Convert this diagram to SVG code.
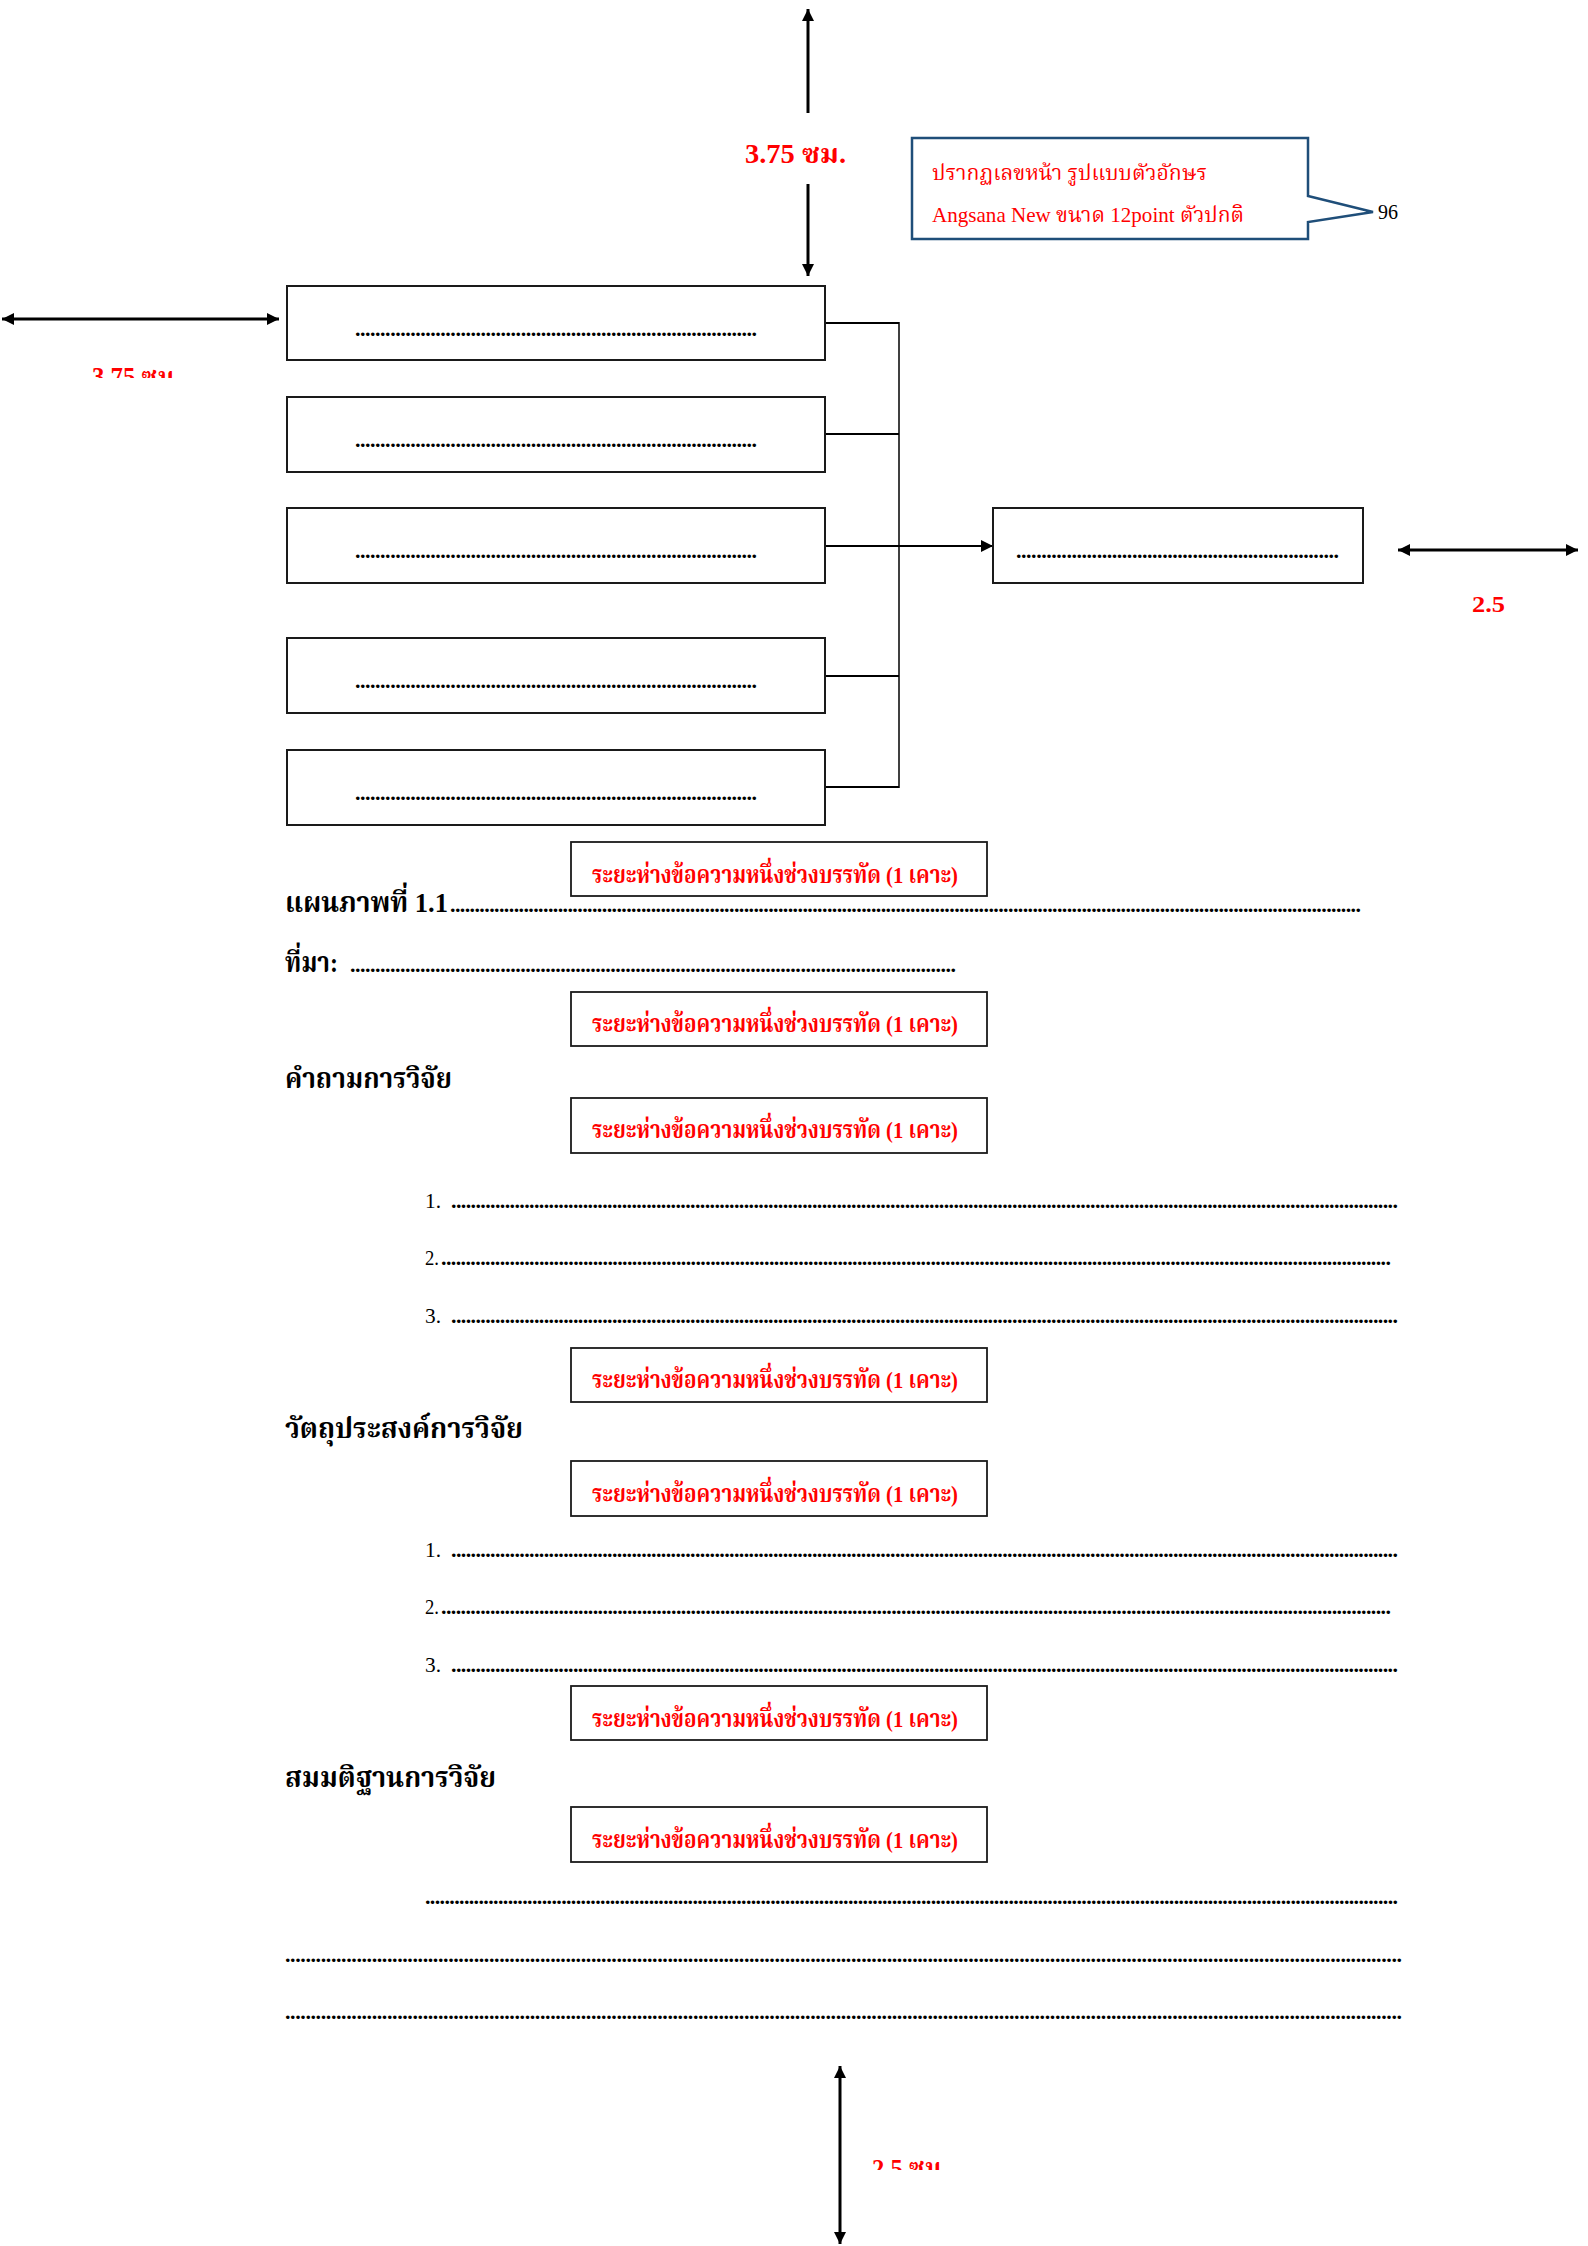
<svg xmlns="http://www.w3.org/2000/svg" width="1588" height="2246" viewBox="0 0 1588 2246">
<style>
.bg{fill:#ffffff}
.box{fill:#ffffff;stroke:#1a1a1a;stroke-width:2}
.rbox{fill:#ffffff;stroke:#1a1a1a;stroke-width:1.8}
.conn{fill:none;stroke:#000;stroke-width:2}
.vline{fill:none;stroke:#000;stroke-width:1.5}
.dim{fill:none;stroke:#000;stroke-width:3}
.th{font-family:"Liberation Serif","Noto Serif Thai","Noto Sans Thai","Noto Sans",serif}
.red{fill:#ff0000}
.blk{fill:#000}
.bold{font-weight:bold}
.dots{font-family:"Liberation Serif",serif;font-size:22px;font-weight:bold;fill:#000}
.lbl{font-size:24px;font-weight:bold}
.head{font-size:28px;font-weight:bold}
.num{font-size:22px}
</style>
<defs>
<marker id="ah" viewBox="0 0 10 10" refX="10" refY="5" markerWidth="14" markerHeight="12" markerUnits="userSpaceOnUse" orient="auto-start-reverse">
<path d="M0,0 L10,5 L0,10 Z" fill="#000"/>
</marker>
<clipPath id="clipL"><rect x="80" y="360" width="120" height="18"/></clipPath>
<clipPath id="clipB"><rect x="860" y="2150" width="110" height="20"/></clipPath>
</defs>
<rect class="bg" x="0" y="0" width="1588" height="2246"/>

<g id="dimensions">
<line class="dim" x1="808" y1="113" x2="808" y2="9" stroke-width="2.5" marker-end="url(#ah)"/>
<line class="dim" x1="808" y1="184" x2="808" y2="276" stroke-width="2.5" marker-end="url(#ah)"/>
<text class="th red bold" x="745" y="163" font-size="27" textLength="101" lengthAdjust="spacingAndGlyphs">3.75 ซม.</text>
<line class="dim" x1="2" y1="319" x2="279" y2="319" marker-start="url(#ah)" marker-end="url(#ah)"/>
<g clip-path="url(#clipL)"><text class="th red bold" x="92" y="386" font-size="27" textLength="88" lengthAdjust="spacingAndGlyphs">3.75 ซม.</text></g>
<line class="dim" x1="1398" y1="550" x2="1578" y2="550" marker-start="url(#ah)" marker-end="url(#ah)"/>
<text class="th red bold" x="1472" y="612" font-size="24" textLength="33" lengthAdjust="spacingAndGlyphs">2.5</text>
<line class="dim" x1="840" y1="2066" x2="840" y2="2244" marker-start="url(#ah)" marker-end="url(#ah)"/>
<g clip-path="url(#clipB)"><text class="th red bold" x="872" y="2177" font-size="26" textLength="75" lengthAdjust="spacingAndGlyphs">2.5 ซม.</text></g>
</g>

<g id="callout">
<path d="M912,138 H1308 V196 L1373,212 L1308,222 V239 H912 Z" fill="#ffffff" stroke="#1F4E79" stroke-width="2.5"/>
<text class="th red" x="932" y="180" font-size="22" textLength="275" lengthAdjust="spacingAndGlyphs">ปรากฏเลขหน้า รูปแบบตัวอักษร</text>
<text class="th red" x="932" y="222" font-size="22" textLength="312" lengthAdjust="spacingAndGlyphs">Angsana New ขนาด 12point ตัวปกติ</text>
<text class="th blk" x="1378" y="219" font-size="21" textLength="20" lengthAdjust="spacingAndGlyphs">96</text>
</g>

<g id="connectors">
<line class="conn" x1="825" y1="323" x2="899" y2="323"/>
<line class="conn" x1="825" y1="434" x2="899" y2="434"/>
<line class="conn" x1="825" y1="676" x2="899" y2="676"/>
<line class="conn" x1="825" y1="787" x2="899" y2="787"/>
<line class="vline" x1="899" y1="322" x2="899" y2="788"/>
<line class="conn" x1="825" y1="546" x2="993" y2="546" stroke-width="2.5" marker-end="url(#ah)"/>
</g>

<g id="node1"><rect class="box" x="287" y="286" width="538" height="74"/><text class="dots" x="355" y="336" textLength="402" lengthAdjust="spacing">................................................................................</text></g>
<g id="node2"><rect class="box" x="287" y="397" width="538" height="75"/><text class="dots" x="355" y="447" textLength="402" lengthAdjust="spacing">................................................................................</text></g>
<g id="node3"><rect class="box" x="287" y="508" width="538" height="75"/><text class="dots" x="355" y="558" textLength="402" lengthAdjust="spacing">................................................................................</text></g>
<g id="node4"><rect class="box" x="287" y="638" width="538" height="75"/><text class="dots" x="355" y="688" textLength="402" lengthAdjust="spacing">................................................................................</text></g>
<g id="node5"><rect class="box" x="287" y="750" width="538" height="75"/><text class="dots" x="355" y="800" textLength="402" lengthAdjust="spacing">................................................................................</text></g>
<g id="node6"><rect class="box" x="993" y="508" width="370" height="75"/><text class="dots" x="1016" y="558" textLength="323" lengthAdjust="spacing">................................................................</text></g>

<g id="spacing-notes">
<rect class="rbox" x="571" y="842" width="416" height="54"/><text class="th red lbl" x="592" y="883" textLength="366" lengthAdjust="spacingAndGlyphs">ระยะห่างข้อความหนึ่งช่วงบรรทัด (1 เคาะ)</text>
<rect class="rbox" x="571" y="992" width="416" height="54"/><text class="th red lbl" x="592" y="1032" textLength="366" lengthAdjust="spacingAndGlyphs">ระยะห่างข้อความหนึ่งช่วงบรรทัด (1 เคาะ)</text>
<rect class="rbox" x="571" y="1098" width="416" height="55"/><text class="th red lbl" x="592" y="1138" textLength="366" lengthAdjust="spacingAndGlyphs">ระยะห่างข้อความหนึ่งช่วงบรรทัด (1 เคาะ)</text>
<rect class="rbox" x="571" y="1348" width="416" height="54"/><text class="th red lbl" x="592" y="1388" textLength="366" lengthAdjust="spacingAndGlyphs">ระยะห่างข้อความหนึ่งช่วงบรรทัด (1 เคาะ)</text>
<rect class="rbox" x="571" y="1461" width="416" height="55"/><text class="th red lbl" x="592" y="1502" textLength="366" lengthAdjust="spacingAndGlyphs">ระยะห่างข้อความหนึ่งช่วงบรรทัด (1 เคาะ)</text>
<rect class="rbox" x="571" y="1686" width="416" height="54"/><text class="th red lbl" x="592" y="1727" textLength="366" lengthAdjust="spacingAndGlyphs">ระยะห่างข้อความหนึ่งช่วงบรรทัด (1 เคาะ)</text>
<rect class="rbox" x="571" y="1807" width="416" height="55"/><text class="th red lbl" x="592" y="1848" textLength="366" lengthAdjust="spacingAndGlyphs">ระยะห่างข้อความหนึ่งช่วงบรรทัด (1 เคาะ)</text>
</g>

<g id="body-text">
<text class="th blk head" x="285" y="912" textLength="163" lengthAdjust="spacingAndGlyphs">แผนภาพที่ 1.1</text>
<text class="dots" x="450" y="912" textLength="911" lengthAdjust="spacing">..........................................................................................................................................................................................</text>
<text class="th blk head" x="285" y="972" textLength="53" lengthAdjust="spacingAndGlyphs">ที่มา:</text>
<text class="dots" x="350" y="972" textLength="606" lengthAdjust="spacing">.........................................................................................................................</text>
<text class="th blk head" x="285" y="1088" textLength="167" lengthAdjust="spacingAndGlyphs">คำถามการวิจัย</text>

<text class="th blk num" x="425" y="1208" textLength="16" lengthAdjust="spacingAndGlyphs">1.</text>
<text class="dots" x="451" y="1208" textLength="947" lengthAdjust="spacing">..................................................................................................................................................................................................</text>
<text class="th blk num" x="425" y="1265" textLength="14" lengthAdjust="spacingAndGlyphs">2.</text>
<text class="dots" x="441" y="1265" textLength="950" lengthAdjust="spacing">..................................................................................................................................................................................................</text>
<text class="th blk num" x="425" y="1323" textLength="16" lengthAdjust="spacingAndGlyphs">3.</text>
<text class="dots" x="451" y="1323" textLength="947" lengthAdjust="spacing">..................................................................................................................................................................................................</text>

<text class="th blk head" x="285" y="1438" textLength="238" lengthAdjust="spacingAndGlyphs">วัตถุประสงค์การวิจัย</text>

<text class="th blk num" x="425" y="1557" textLength="16" lengthAdjust="spacingAndGlyphs">1.</text>
<text class="dots" x="451" y="1557" textLength="947" lengthAdjust="spacing">..................................................................................................................................................................................................</text>
<text class="th blk num" x="425" y="1614" textLength="14" lengthAdjust="spacingAndGlyphs">2.</text>
<text class="dots" x="441" y="1614" textLength="950" lengthAdjust="spacing">..................................................................................................................................................................................................</text>
<text class="th blk num" x="425" y="1672" textLength="16" lengthAdjust="spacingAndGlyphs">3.</text>
<text class="dots" x="451" y="1672" textLength="947" lengthAdjust="spacing">..................................................................................................................................................................................................</text>

<text class="th blk head" x="285" y="1787" textLength="211" lengthAdjust="spacingAndGlyphs">สมมติฐานการวิจัย</text>

<text class="dots" x="425" y="1904" textLength="973" lengthAdjust="spacing">........................................................................................................................................................................................................</text>
<text class="dots" x="285" y="1962" textLength="1117" lengthAdjust="spacing">...........................................................................................................................................................................................................................</text>
<text class="dots" x="285" y="2019" textLength="1117" lengthAdjust="spacing">...........................................................................................................................................................................................................................</text>
</g>
</svg>
